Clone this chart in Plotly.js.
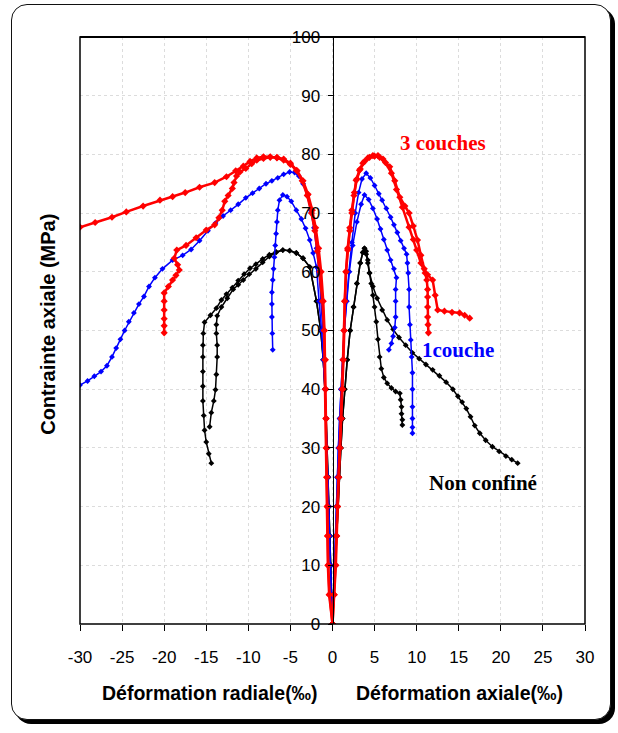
<!DOCTYPE html>
<html><head><meta charset="utf-8">
<script src="https://cdn.plot.ly/plotly-3.0.1.min.js"></script>
<style>
html,body{margin:0;padding:0;background:#fff;}
#wrap{position:relative;width:618px;height:733px;}
#frame{position:absolute;left:11px;top:4px;width:598px;height:714px;border:1.5px solid #111;border-radius:16px;box-shadow:4px 4px 0 #000;background:#fff;}
#plot{position:absolute;left:0;top:0;width:618px;height:733px;}
</style></head>
<body><div id="wrap"><div id="frame"></div><div id="plot"></div></div>
<script>
// Non confiné (black)
const bkA_rx=[0,-0.1,-0.2,-0.3,-0.4,-0.5,-0.6,-0.75,-0.9,-1.1,-1.4,-1.9,-2.7,-3.5,-4.3,-5.1,-5.9,-6.7,-7.5,-8.3,-9.1,-9.8,-10.5,-11.2,-11.9,-12.6,-13.2,-13.8,-14.5,-15.2,-15.35,-15.4,-15.4,-15.4,-15.4,-15.4,-15.3,-15.2,-15.0,-14.7,-14.4];
const bkA_ry=[0,5,10,15,20,25,30,35,40,45,50,55,60.8,62.3,63.2,63.6,63.7,63.4,62.9,62.2,61.3,60.6,59.6,58.5,57.3,56.2,55.2,53.8,52.6,51.4,49.5,47.5,45.5,43,40.5,38,35.5,33,31,29,27.4];
const bkB_rx=[0,-0.1,-0.2,-0.3,-0.4,-0.5,-0.6,-0.75,-0.9,-1.1,-1.4,-1.9,-2.7,-3.5,-4.3,-5.1,-5.9,-6.7,-7.5,-8.3,-9.1,-9.9,-10.6,-11.2,-11.8,-12.5,-13.2,-13.7,-13.8,-13.8,-13.7,-13.7,-13.8,-13.9,-14.1,-14.4,-14.6];
const bkB_ry=[0,5,10,15,20,25,30,35,40,45,50,55,60.8,62.3,63.2,63.6,63.7,63.3,62.6,61.6,60.5,59.6,58.6,57.8,57,55.5,54,52.5,51,49.5,47.5,45.5,42.5,39.9,38,36,33.6];
const bkA_ax=[0,0.2,0.35,0.5,0.65,0.8,1.0,1.2,1.45,1.75,2.1,2.5,2.9,3.3,3.6,3.8,4.0,4.2,4.4,4.8,5.3,5.9,6.5,7.2,7.9,8.7,9.5,10.3,11.1,11.9,12.7,13.5,14.3,14.9,15.4,15.9,16.4,16.9,17.5,18.2,19.0,19.8,20.6,21.3,22.0];
const bkA_ay=[0,5,10,15,20,25,30,35,40,45,50,54,58,61.5,63.3,64,63.5,62,59.8,57.5,55.5,53.5,51.8,50.2,48.8,47.5,46.2,45.2,44.2,43.3,42.3,41.2,40,38.8,37.8,36.7,35.3,33.8,32.5,31.3,30.2,29.4,28.6,28,27.4];
const bkB_ax=[0,0.2,0.35,0.5,0.65,0.8,1.0,1.2,1.45,1.75,2.1,2.5,2.9,3.3,3.6,3.8,4.0,4.2,4.4,4.6,4.8,5.0,5.2,5.4,5.6,5.8,6.1,6.5,7.0,7.5,8.0,8.1,8.2,8.2,8.3,8.3];
const bkB_ay=[0,5,10,15,20,25,30,35,40,45,50,54,58,61.5,63.3,64,63,61.5,59.8,58,56,54,51.5,48.5,45.5,43.5,42,41,40.2,39.6,39.3,38.2,37,35.8,34.8,33.9];
// 1 couche (blue)
const blA_rx=[0,-0.15,-0.25,-0.35,-0.45,-0.55,-0.65,-0.75,-0.85,-1.0,-1.15,-1.35,-1.6,-1.9,-2.2,-2.6,-3.0,-3.5,-4.0,-4.5,-5.1,-5.8,-6.5,-7.2,-7.9,-8.7,-9.5,-10.3,-11.2,-12.1,-13.0,-13.9,-14.8,-15.8,-16.8,-17.8,-19.0,-20.2,-21.1,-21.8,-22.4,-23.0,-23.6,-24.2,-24.7,-25.2,-25.7,-26.2,-26.8,-27.5,-28.3,-29.1,-30.0];
const blA_ry=[0,5,10,15,20,25,30,35,40,45,50,55,60,64,67.5,70.5,73,75,76.3,76.9,77,76.6,76,75.5,75,74.2,73.4,72.6,71.5,70.5,69.5,68.3,67,65.3,63.8,62.8,62,60.5,59,57.5,55.8,54.5,53,51.5,50,48.5,47,45.5,44,43,42.2,41.4,40.7];
const blB_rx=[0,-0.15,-0.25,-0.35,-0.45,-0.55,-0.65,-0.75,-0.9,-1.1,-1.3,-1.6,-1.9,-2.3,-2.7,-3.2,-3.7,-4.3,-4.9,-5.4,-5.9,-6.3,-6.5,-6.6,-6.7,-6.8,-6.9,-7.0,-7.1,-7.2,-7.2,-7.2,-7.15,-7.1];
const blB_ry=[0,5,10,15,20,25,30,35,40,45,50,55,60.8,63.2,65.4,67.4,69,70.5,72,72.8,73.1,72.2,70.5,68.5,66.5,64.5,62.5,60.5,58.6,56.5,54.5,52.3,49.5,46.7];
const blA_ax=[0,0.15,0.25,0.35,0.45,0.55,0.7,0.85,1.0,1.2,1.4,1.65,1.95,2.3,2.7,3.1,3.5,4.0,4.5,5.0,5.5,5.9,6.4,6.9,7.3,7.7,8.1,8.5,8.8,8.9,9.0,9.1,9.1,9.2,9.3,9.4,9.5,9.5,9.5,9.5,9.5,9.5];
const blA_ay=[0,5,10,15,20,25,30,35,40,45,50,55,60,65,70,73.5,75.8,76.8,76,74.7,73.3,72.2,70.8,69.3,68,66.7,65.3,64,63,61.5,59.8,57,54,51,48.4,45.5,42.8,40,37,35,33.5,32.5];
const blB_ax=[0,0.15,0.25,0.35,0.45,0.55,0.7,0.85,1.0,1.2,1.4,1.7,2.0,2.4,2.9,3.4,3.8,4.3,4.8,5.3,5.7,6.1,6.5,6.9,7.3,7.6,7.5,7.5,7.5,7.4,7.2,7.0,6.7];
const blB_ay=[0,5,10,15,20,25,30,35,40,45,50,55,60,64.5,68.5,71.5,73.1,72.3,70.8,69,67.3,65.5,63.7,62,60.5,59,57,55,52.3,50.5,49,47.8,46.7];
// 3 couches (red)
const rdA_rx=[0,-0.4,-0.55,-0.6,-0.65,-0.7,-0.75,-0.8,-0.85,-0.9,-1.0,-1.2,-1.5,-1.8,-2.1,-2.5,-3.0,-3.6,-4.3,-5.0,-5.8,-6.6,-7.4,-8.2,-9.0,-9.8,-10.6,-11.5,-12.6,-14.0,-15.8,-17.5,-19.0,-20.5,-22.5,-24.5,-26.2,-28.2,-30.0];
const rdA_ry=[0,5,10,15,20,25,30,35,40,45,50,55,60,63.5,67,70,73,75.5,77.3,78.3,79,79.4,79.6,79.6,79.4,78.8,78,77.2,76.2,75.2,74.4,73.5,72.8,72.2,71.2,70.2,69.3,68.4,67.6];
const rdB_rx=[0,-0.35,-0.5,-0.55,-0.6,-0.65,-0.7,-0.75,-0.8,-0.85,-0.95,-1.1,-1.35,-1.65,-2.0,-2.4,-2.9,-3.5,-4.2,-5.0,-5.8,-6.6,-7.4,-8.2,-9.0,-9.6,-10.3,-11.0,-11.4,-11.7,-11.9,-12.4,-12.8,-13.1,-13.5,-14.0,-15.0,-16.2,-17.4,-18.5,-18.8,-18.4,-18.2,-18.6,-19.0,-19.5,-20,-20,-20,-20,-20,-20];
const rdB_ry=[0,5,10,15,20,25,30,35,40,45,50,55,60,64,67.5,70.5,73.2,75.5,77.2,78.5,79.2,79.5,79.5,79.3,79,78.4,77.6,77,76.3,75.2,74.2,73,72,70.5,69.2,68,67.1,65.8,64.5,63.7,62.3,61.2,60.3,59.4,58.6,57.5,56.4,55,53.5,52,50.8,49.6];
const rdA_ax=[0,0.2,0.4,0.5,0.6,0.75,0.9,1.05,1.2,1.3,1.4,1.45,1.6,1.8,2.05,2.3,2.55,2.8,3.2,3.6,4.2,4.8,5.4,6.0,6.8,7.4,8.0,8.6,9.1,9.6,10.1,10.5,10.9,11.3,11.9,12.2,12.5,13.3,14.2,15.1,15.7,16.3];
const rdA_ay=[0,5,10,15,20,25,30,35,40,45,50,55,60,63.7,67,70,73,75.6,77.3,78.5,79.4,79.8,79.8,79.2,77.9,75.5,72.7,71.2,70,67.8,65.4,62.8,60.5,59.5,58.6,56,53.5,53.3,53.1,53,52.6,52.1];
const rdB_ax=[0,0.2,0.35,0.45,0.55,0.7,0.85,1.0,1.15,1.25,1.35,1.45,1.6,1.8,2.05,2.3,2.6,2.9,3.3,3.8,4.4,5.0,5.6,6.3,7.0,7.6,8.3,9.1,9.6,10.0,10.5,11.0,11.2,11.3,11.3,11.3,11.3,11.35,11.4];
const rdB_ay=[0,5,10,15,20,25,30,35,40,45,50,55,60,64,67.5,70.5,73.5,75.8,77.5,78.8,79.5,79.7,79.5,78.6,76.8,74,71,67.6,65.5,63.7,61.5,59.8,58.6,57,55.7,54,52.3,51,49.6];

const xTicks=[-30,-25,-20,-15,-10,-5,0,5,10,15,20,25,30];
const xTickText=["-30","-25","-20","-15","-10","-5","0","5","10","15","20","25","30"];
const yTicks=[0,10,20,30,40,50,60,70,80,90,100];
const labels=["3 couches","1couche","Non confiné"];
const labelX=[13.1,14.9,17.9], labelY=[81.9,46.6,24.0];
const labelColors=["#ff0000","#0000ff","#000000"];

function tr(x,y,color,ms,lw){return {x:x,y:y,type:'scatter',mode:'lines+markers',
  line:{color:color,width:lw},marker:{color:color,size:ms,symbol:'diamond'},hoverinfo:'skip',showlegend:false};}
const data=[
  tr(bkA_rx,bkA_ry,'#000',4.5,1.5),tr(bkB_rx,bkB_ry,'#000',4.5,1.5),tr(bkA_ax,bkA_ay,'#000',4.5,1.5),tr(bkB_ax,bkB_ay,'#000',4.5,1.5),
  tr(blA_rx,blA_ry,'#0000ff',4.5,1.5),tr(blB_rx,blB_ry,'#0000ff',4.5,1.5),tr(blA_ax,blA_ay,'#0000ff',4.5,1.5),tr(blB_ax,blB_ay,'#0000ff',4.5,1.5),
  tr(rdA_rx,rdA_ry,'#ff0000',5.5,2.5),tr(rdB_rx,rdB_ry,'#ff0000',5.5,2.5),tr(rdA_ax,rdA_ay,'#ff0000',5.5,2.5),tr(rdB_ax,rdB_ay,'#ff0000',5.5,2.5)
];
const ann=labels.map((t,i)=>({x:labelX[i],y:labelY[i],xref:'x',yref:'y',xanchor:'center',yanchor:'middle',text:'<b>'+t+'</b>',showarrow:false,
  font:{family:'Liberation Serif, Times New Roman, serif',size:21,color:labelColors[i]}}));
ann.push({xref:'paper',yref:'paper',x:-0.065,y:0.51,xanchor:'center',yanchor:'middle',text:'<b>Contrainte axiale (MPa)</b>',textangle:-90,showarrow:false,
  font:{family:'Liberation Sans, Arial, sans-serif',size:20,color:'#000'}});
ann.push({xref:'paper',yref:'paper',x:0.258,y:-0.118,xanchor:'center',yanchor:'middle',text:'<b>Déformation radiale(‰)</b>',showarrow:false,
  font:{family:'Liberation Sans, Arial, sans-serif',size:19.5,color:'#000'}});
ann.push({xref:'paper',yref:'paper',x:0.752,y:-0.118,xanchor:'center',yanchor:'middle',text:'<b>Déformation axiale(‰)</b>',showarrow:false,
  font:{family:'Liberation Sans, Arial, sans-serif',size:19.5,color:'#000'}});

const layout={width:618,height:733,margin:{l:80,r:33,t:37,b:109},
  paper_bgcolor:'rgba(0,0,0,0)',plot_bgcolor:'rgba(0,0,0,0)',
  font:{family:'Liberation Sans, Arial, sans-serif',size:17,color:'#000'},
  xaxis:{range:[-30,30],tickvals:xTicks,ticktext:xTickText,ticks:'outside',ticklen:6,tickcolor:'#000',showline:false,zeroline:false,
    showgrid:true,gridcolor:'#dcdcdc',griddash:'dot',ticklabelstandoff:12,tickfont:{size:17}},
  yaxis:{range:[0,100],tickvals:yTicks,anchor:'free',position:0.5,side:'left',ticks:'outside',ticklen:5,tickcolor:'#000',
    showline:true,linecolor:'#000',linewidth:1,zeroline:false,showgrid:true,gridcolor:'#dcdcdc',griddash:'dot',
    ticklabelstandoff:4,tickfont:{size:17}},
  shapes:[{type:'rect',xref:'paper',yref:'paper',x0:0,x1:1,y0:0,y1:1,line:{color:'#000',width:1.5}},
          {type:'line',xref:'paper',yref:'paper',x0:0,x1:1,y0:1,y1:1,line:{color:'#000',width:2}}],
  annotations:ann};
Plotly.newPlot('plot',data,layout,{staticPlot:true,displayModeBar:false});
</script></body></html>
